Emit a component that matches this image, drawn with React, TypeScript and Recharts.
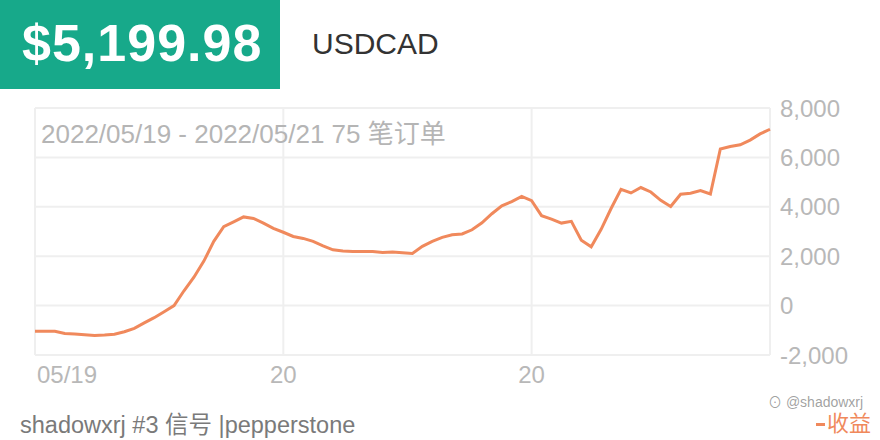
import React from "react";
import { LineChart, Line, XAxis, YAxis, CartesianGrid } from "recharts";

const profit: number[] = [
  -1040, -1040, -1040, -1130, -1150, -1180, -1210, -1190, -1160, -1060,
  -920, -700, -490, -250, 0, 600, 1150, 1800, 2600, 3200,
  3390, 3590, 3530, 3340, 3130, 2970, 2800, 2720, 2600, 2420,
  2260, 2210, 2190, 2190, 2190, 2150, 2170, 2140, 2110, 2400,
  2600, 2760, 2870, 2900, 3070, 3350, 3720, 4040, 4210, 4420,
  4250, 3640, 3500, 3340, 3410, 2650, 2380, 3090, 3930, 4710,
  4560, 4780, 4600, 4260, 4010, 4510, 4550, 4660, 4520, 6340,
  6440, 6510, 6700, 6950, 7140,
];

const xTickIndex: number[] = [0, 25, 50, 74];
const xTickLabels: string[] = ["05/19", "20", "20", ""];
const yTicks: number[] = [-2000, 0, 2000, 4000, 6000, 8000];

const headerValue = "$5,199.98";
const symbol = "USDCAD";
const subtitle = "2022/05/19 - 2022/05/21 75 笔订单";
const footer = "shadowxrj #3 信号 |pepperstone";
const legendName = "收益";
const watermark = "@shadowxrj";

const data = profit.map((v, i) => ({ i, v }));

const FONT = "'Liberation Sans', Arial, 'Noto Sans CJK SC', sans-serif";
const GRID = "#efefef";
const AXIS_TEXT = "#b8b8b8";
const LINE = "#f0895c";

const XTick = (props: any) => {
  const { x, y, payload, index } = props;
  const pos = xTickIndex.indexOf(payload.value);
  const label = xTickLabels[pos] ?? "";
  return (
    <text
      x={index === 0 ? x + 2 : x}
      y={y + 20}
      textAnchor={index === 0 ? "start" : "middle"}
      fill={AXIS_TEXT}
      fontSize={24}
      fontFamily={FONT}
    >
      {label}
    </text>
  );
};

export default function App() {
  return (
    <div
      style={{
        position: "absolute",
        left: 0,
        top: 0,
        width: 880,
        height: 440,
        background: "#fff",
        overflow: "hidden",
        fontFamily: FONT,
      }}
    >
      <div
        style={{
          position: "absolute",
          left: 0,
          top: 0,
          width: 280,
          height: 89,
          background: "#17a98a",
        }}
      />
      <div
        style={{
          position: "absolute",
          left: 22,
          top: 17,
          fontSize: 52,
          lineHeight: "52px",
          fontWeight: 700,
          color: "#fff",
          letterSpacing: 1,
          whiteSpace: "nowrap",
        }}
      >
        {headerValue}
      </div>
      <div
        style={{
          position: "absolute",
          left: 312,
          top: 29,
          fontSize: 30,
          lineHeight: "30px",
          color: "#333",
          whiteSpace: "nowrap",
        }}
      >
        {symbol}
      </div>

      <div style={{ position: "absolute", left: 0, top: 0 }}>
        <LineChart
          width={880}
          height={440}
          data={data}
          margin={{ top: 108, right: 0, bottom: 40, left: 35 }}
        >
          <CartesianGrid stroke={GRID} strokeWidth={2} />
          <XAxis
            dataKey="i"
            type="number"
            domain={[0, profit.length - 1]}
            ticks={xTickIndex}
            tick={<XTick />}
            axisLine={false}
            tickLine={false}
            height={45}
            interval={0}
          />
          <YAxis
            orientation="right"
            domain={[-2000, 8000]}
            ticks={yTicks}
            axisLine={false}
            tickLine={false}
            width={110}
            tickMargin={4}
            tick={{ fill: AXIS_TEXT, fontSize: 24, fontFamily: FONT }}
            tickFormatter={(v: number) => v.toLocaleString("en-US")}
          />
          <Line
            type="linear"
            dataKey="v"
            stroke={LINE}
            strokeWidth={3}
            dot={false}
            isAnimationActive={false}
          />
        </LineChart>
      </div>

      <div
        style={{
          position: "absolute",
          left: 41,
          top: 121,
          fontSize: 26,
          lineHeight: "26px",
          color: "#b5b5b5",
          whiteSpace: "nowrap",
        }}
      >
        {subtitle}
      </div>

      <div
        style={{
          position: "absolute",
          left: 20,
          top: 414,
          fontSize: 23.5,
          lineHeight: "23px",
          color: "#7a7a7a",
          whiteSpace: "nowrap",
        }}
      >
        {footer}
      </div>

      <div
        style={{
          position: "absolute",
          left: 816,
          top: 413,
          display: "flex",
          alignItems: "center",
          whiteSpace: "nowrap",
        }}
      >
        <span
          style={{
            display: "inline-block",
            width: 9,
            height: 3,
            background: LINE,
            marginRight: 2,
          }}
        />
        <span style={{ fontSize: 22, lineHeight: "22px", color: LINE }}>
          {legendName}
        </span>
      </div>

      <div
        style={{
          position: "absolute",
          left: 768,
          top: 395,
          fontSize: 14,
          lineHeight: "14px",
          color: "rgba(120,120,120,0.7)",
          whiteSpace: "nowrap",
        }}
      >
        ⊙ {watermark}
      </div>
    </div>
  );
}
